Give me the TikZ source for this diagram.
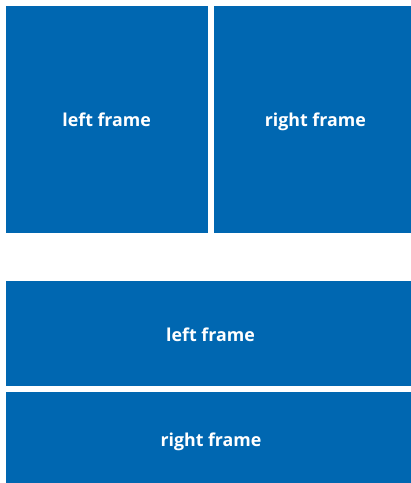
\documentclass[tikz,border=0pt]{standalone}
\usepackage{fontspec}
\setmainfont{Open Sans}
\definecolor{frameblue}{HTML}{0067B1}
\begin{document}
\begin{tikzpicture}[x=1pt,y=-1pt,
  framebox/.style={fill=none,draw=none,text=white,anchor=base,inner sep=0pt,font=\bfseries\fontsize{17.8}{20}\selectfont}]
\useasboundingbox (0,0) rectangle (411,483);
\fill[white] (0,0) rectangle (411,483);
\fill[frameblue] (6,6) rectangle (208,233);
\fill[frameblue] (214,6) rectangle (411,233);
\fill[frameblue] (6,281) rectangle (411,386);
\fill[frameblue] (6,392) rectangle (411,483);
\node[framebox] (tl) at (106.7,126.7) {left frame};
\node[framebox] (tr) at (315.3,126.7) {right frame};
\node[framebox] (bl) at (210.5,341) {left frame};
\node[framebox] (br) at (211,446.7) {right frame};
\end{tikzpicture}
\end{document}
